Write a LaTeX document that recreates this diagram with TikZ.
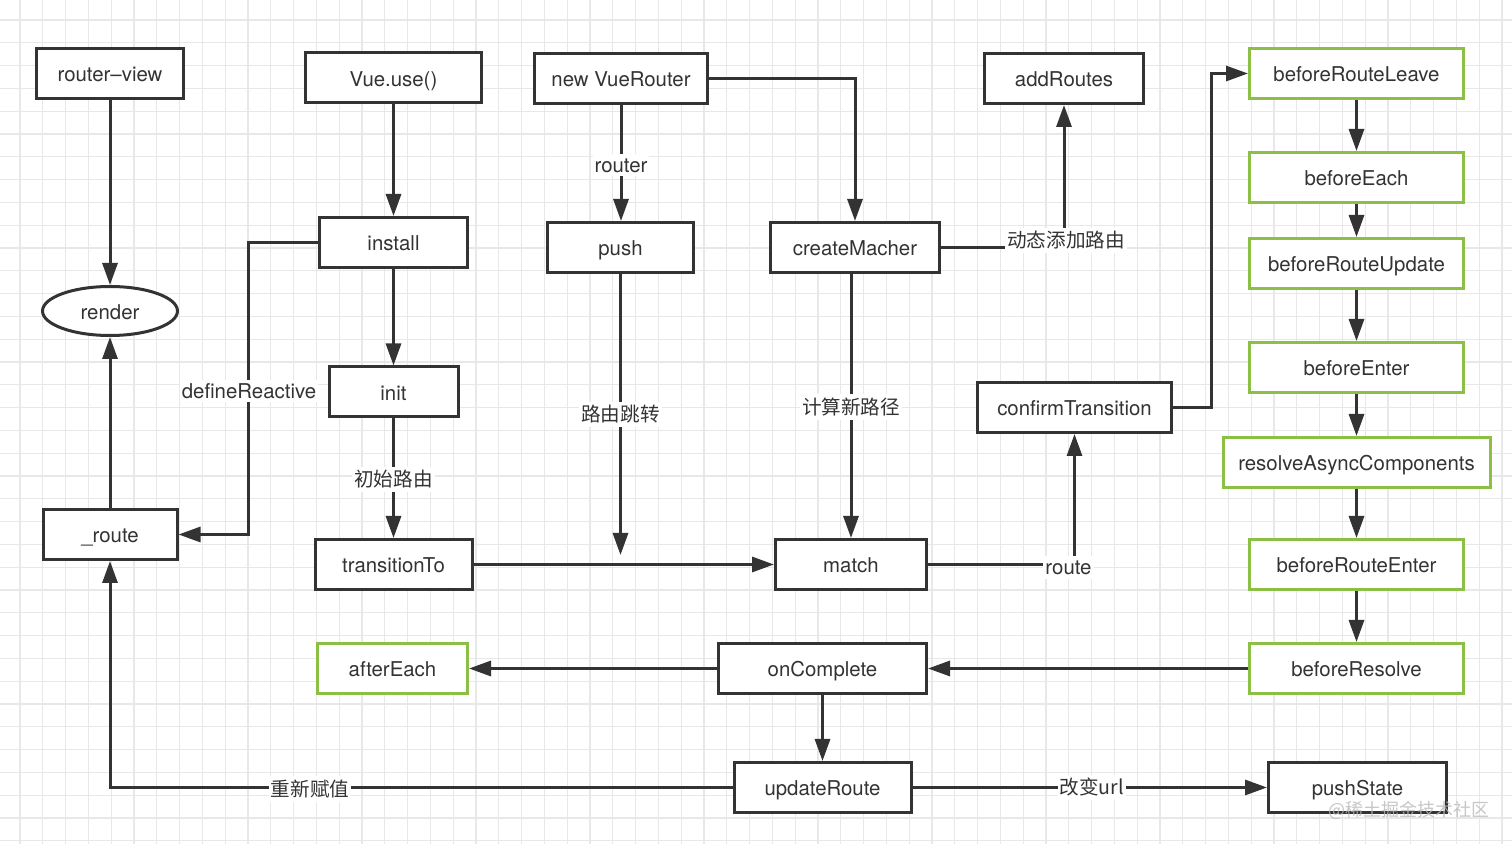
\documentclass[tikz,border=0pt]{standalone}
\usepackage{fontspec}
\setmainfont{TeX Gyre Heros}
\newfontfamily\cjk{Noto Sans CJK SC}
\usetikzlibrary{arrows.meta,shapes.geometric}
\definecolor{ink}{HTML}{333333}
\definecolor{grn}{HTML}{8BBF45}
\definecolor{gridc}{HTML}{E8E8E8}
\begin{document}
\begin{tikzpicture}[x=0.5pt,y=-0.5pt,
  box/.style={draw=ink, line width=1.5pt, fill=white, rectangle, inner sep=0pt,
    minimum height=25pt, text=ink, text height=8.2pt, text depth=0pt,
    font=\fontsize{10.2}{12}\selectfont},
  gbox/.style={box, draw=grn},
  conn/.style={draw=ink, line width=1.5pt},
  arr/.style={conn, -{Triangle[length=11pt,width=7.5pt]}},
  lbl/.style={fill=white, text=ink, inner sep=1pt, text height=8.4pt, text depth=1pt,
    font=\fontsize{10.2}{12}\selectfont},
  clbl/.style={lbl, text height=9pt, text depth=1.6pt, font=\cjk\fontsize{9.8}{12}\selectfont},
  gridline/.style={draw=gridc, line width=0.6pt}
]
\fill[white] (0,0) rectangle (1512,844);
\useasboundingbox (0,0) rectangle (1512,844);
\foreach \i in {0,...,65} \draw[gridline] ({20+22.8*\i},0) -- ({20+22.8*\i},844);
\foreach \i in {0,...,36} \draw[gridline] (0,{20+22.8*\i}) -- (1512,{20+22.8*\i});

% nodes
\node[box, minimum width=73.5pt] (rv) at (110,73.5) {router–view};
\node[box, minimum width=88pt] (vue) at (393.5,78) {Vue.use()};
\node[box, minimum width=86.5pt] (nvr) at (621,78.5) {new VueRouter};
\node[box, minimum width=79.5pt] (add) at (1064,78.5) {addRoutes};
\node[gbox, minimum width=107pt] (brl) at (1356.5,73.5) {beforeRouteLeave};
\node[gbox, minimum width=107pt] (be) at (1356.5,177.5) {beforeEach};
\node[gbox, minimum width=107pt] (bru) at (1356.5,263.5) {beforeRouteUpdate};
\node[gbox, minimum width=107pt] (ben) at (1356.5,367.5) {beforeEnter};
\node[gbox, minimum width=133.5pt] (rac) at (1356.5,462.5) {resolveAsyncComponents};
\node[gbox, minimum width=107pt] (bre) at (1356.5,564.5) {beforeRouteEnter};
\node[gbox, minimum width=107pt] (brs) at (1356.5,668.5) {beforeResolve};
\node[box, minimum width=89pt] (ps) at (1357.5,787.5) {pushState};
\node[box, minimum width=74pt] (inst) at (393.5,242.5) {install};
\node[box, minimum width=73pt] (push) at (620.5,247.5) {push};
\node[box, minimum width=84.5pt] (cm) at (855,247.5) {createMacher};
\node[box, ellipse, minimum width=67.5pt, minimum height=24.5pt] (render) at (110,311) {render};
\node[box, minimum width=64.5pt] (init) at (393.5,392) {init};
\node[box, minimum width=97pt] (ct) at (1074.5,407.5) {confirmTransition};
\node[box, minimum width=67pt] (rt) at (110,534.5) {\_route};
\node[box, minimum width=78.5pt] (tt) at (393.5,564.5) {transitionTo};
\node[box, minimum width=75.5pt] (match) at (851,564.5) {match};
\node[gbox, minimum width=75pt] (ae) at (392.5,668.5) {afterEach};
\node[box, minimum width=104pt] (oc) at (822.5,668.5) {onComplete};
\node[box, minimum width=88.5pt] (ur) at (822.5,787.5) {updateRoute};

% connectors
\draw[arr] (rv) -- (render);
\draw[arr] (rt) -- (render);
\draw[arr] (vue) -- (inst);
\draw[arr] (inst) -- (init);
\draw[arr] (init) -- (tt) node[clbl, midway, yshift=-0.5pt] {初始路由};
\draw[arr] (inst.west) -- ++(-70,0) |- (rt.east);
\node[lbl] (dr) at (249,391) {defineReactive};
\draw[arr] (nvr) -- (nvr.south |- push.north) node[lbl, midway, yshift=-1pt] {router};
\draw[arr] (nvr.east) -| (cm.north);
\coordinate (pj) at (620.5,555);
\draw[arr] (push) -- (pj) node[clbl, midway] {路由跳转};
\draw[arr] (tt) -- (match);
\draw[arr] (cm.south -| match.north) -- (match.north) node[clbl, midway, yshift=-0.5pt] {计算新路径};
\draw[arr] (cm.east) -| (add.south) node[clbl, pos=0.5, yshift=3.5pt, xshift=1pt] {动态添加路由};
\draw[arr] (match.east) -| (ct.south) node[lbl, pos=0.5, xshift=-3pt, yshift=-1.5pt] {route};
\draw[arr] (ct.east) -- ++(38,0) |- (brl.west);
\draw[arr] (brl) -- (be);
\draw[arr] (be) -- (bru);
\draw[arr] (bru) -- (ben);
\draw[arr] (ben) -- (rac);
\draw[arr] (rac) -- (bre);
\draw[arr] (bre) -- (brs);
\draw[arr] (brs) -- (oc);
\draw[arr] (oc) -- (ae);
\draw[arr] (oc) -- (ur);
\draw[arr] (ur.west) -| (rt.south);
\node[clbl] (rz) at (310,789) {重新赋值};
\draw[arr] (ur) -- (ps) node[clbl, midway, xshift=1pt] {改变url};

\node[text=gray!55, opacity=0.8, font=\cjk\fontsize{9}{10}\selectfont] (wm) at (1409,810) {@稀土掘金技术社区};
\end{tikzpicture}
\end{document}
